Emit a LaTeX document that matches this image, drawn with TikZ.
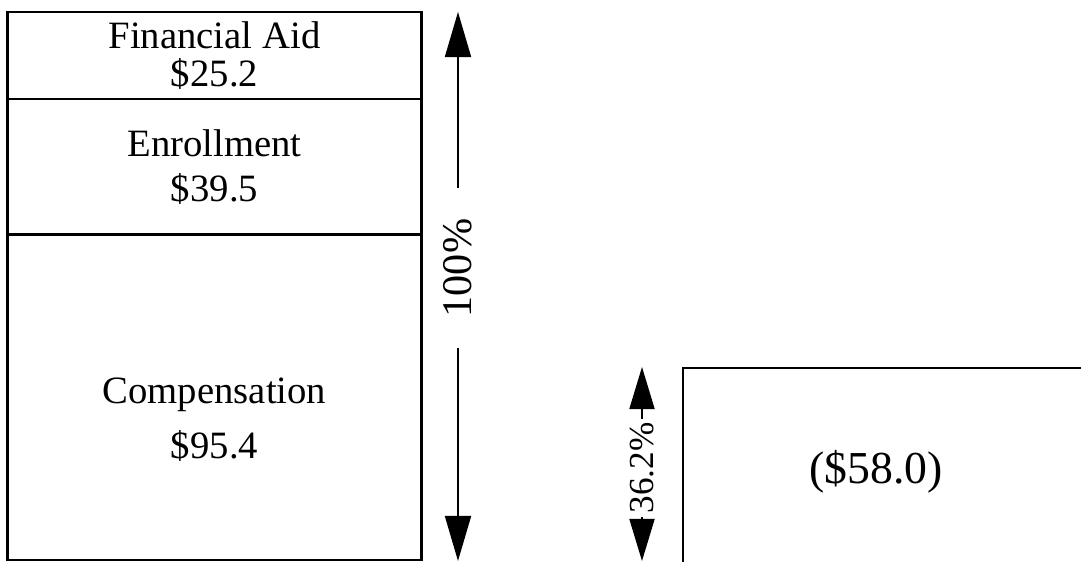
\documentclass[tikz,border=0pt]{standalone}
\usepackage{fontspec}
\setmainfont{Liberation Serif}
\usetikzlibrary{arrows.meta, positioning}
\tikzset{
  seg/.style  = {rectangle, draw, line width=0.8pt, inner sep=0pt,
                 align=center, minimum width=4.13cm,
                 font=\fontsize{11}{13}\selectfont},
  amt/.style  = {inner sep=1pt, align=center,
                 font=\fontsize{11}{13}\selectfont},
  arr/.style  = {-{Triangle[length=0.45cm, width=0.26cm]}, line width=0.5pt},
  sarr/.style = {-{Triangle[length=0.42cm, width=0.25cm]}, line width=0.5pt},
  pct/.style  = {rotate=90, inner sep=0pt},
}

\begin{document}
\begin{tikzpicture}[x=0.01cm, y=-0.01cm]
  \useasboundingbox (0,0) rectangle (1081,562);
  % stacked bar
  \node[seg, minimum height=0.87cm] (fin) at (214.5,55.5)
    {Financial Aid\\[-2pt]\$25.2};
  \node[seg, minimum height=1.36cm] (enr) at (214.5,167)
    {Enrollment\\\$39.5};
  \node[seg, minimum height=3.25cm] (comp) at (214.5,397.5) {};
  \node[amt] (comptxt) at ([yshift=-0.22cm]comp.center)
    {Compensation\\[2.5pt]\$95.4};
  % full height
  \coordinate (top1) at (458,12);
  \coordinate (bot1) at (458,561);
  \node[pct, inner xsep=0.3cm, font=\fontsize{12}{14}\selectfont]
    (p100) at (458,268) {100\%};
  \draw[arr] (p100) -- (top1);
  \draw[arr] (p100) -- (bot1);
  % partial bar
  \coordinate (cutl) at (683,562);
  \coordinate (cutr) at (1081,368);
  \draw[line width=0.8pt] (cutl) |- (cutr);
  \node[amt, font=\fontsize{13}{15}\selectfont] (loss) at (876,472)
    {(\$58.0)};
  \coordinate (top2) at (642,367);
  \coordinate (bot2) at (642,561);
  \node[pct, inner xsep=0.03cm, font=\fontsize{10}{12}\selectfont]
    (p36) at (642,468) {36.2\%};
  \draw[sarr] (p36) -- (top2);
  \draw[sarr] (p36) -- (bot2);
\end{tikzpicture}
\end{document}
